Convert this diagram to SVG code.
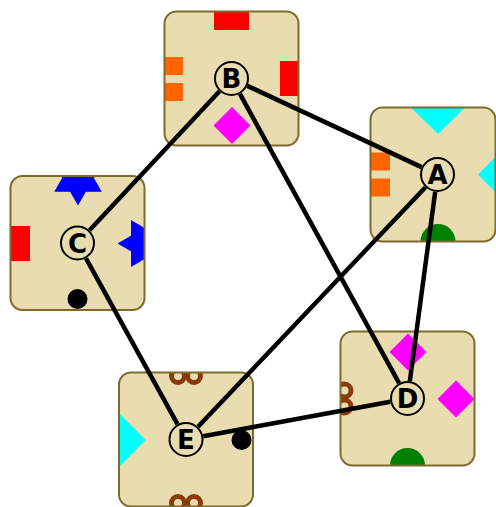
<svg xmlns="http://www.w3.org/2000/svg" width="496" height="507" viewBox="0 0 496 507">
<style>
.box{fill:#e8dcb0;stroke:none}
.frame{fill:none;stroke:#7d6b2e;stroke-width:2}
.nd{fill:#e8dcb0;stroke:#000;stroke-width:2}
.lbl{font-family:"DejaVu Sans",sans-serif;font-weight:bold;font-size:26px;text-anchor:middle;fill:#000}
.edge{stroke:#000;stroke-width:4.5;fill:none}
.brn{fill:none;stroke:#8b3a0a;stroke-width:5}
.red{fill:#ff0000}
.org{fill:#ff6600}
.mag{fill:#ff00ff}
.cyn{fill:#00ffff}
.blu{fill:#0000ff}
.grn{fill:#008000}
.blk{fill:#000}
</style>
<defs>
<clipPath id="cB"><rect x="164.5" y="11.5" width="134" height="134" rx="12"/></clipPath>
<clipPath id="cA"><rect x="370.5" y="107.5" width="125" height="134" rx="12"/></clipPath>
<clipPath id="cC"><rect x="10.5" y="176" width="134" height="134" rx="12"/></clipPath>
<clipPath id="cD"><rect x="340.5" y="331.5" width="134" height="134" rx="12"/></clipPath>
<clipPath id="cE"><rect x="119" y="372.5" width="134" height="134" rx="12"/></clipPath>
</defs>

<g id="node-B">
<rect class="box" x="164.5" y="11.5" width="134" height="134" rx="12"/>
<g clip-path="url(#cB)">
<rect class="red" x="214" y="0" width="35" height="30"/>
<rect class="org" x="150" y="57" width="33" height="18"/>
<rect class="org" x="150" y="83" width="33" height="18"/>
<rect class="red" x="280" y="61" width="30" height="35"/>
<polygon class="mag" points="232,107 250.5,125.5 232,144 213.5,125.5"/>
</g>
<rect class="frame" x="164.5" y="11.5" width="134" height="134" rx="12"/>
<circle class="nd" cx="231.5" cy="78.5" r="16.5"/>
<text class="lbl" x="231.5" y="88">B</text>
</g>

<g id="node-A">
<rect class="box" x="370.5" y="107.5" width="125" height="134" rx="12"/>
<g clip-path="url(#cA)">
<polygon class="cyn" points="411,107.5 465,107.5 438,134"/>
<polygon class="cyn" points="478,174.5 504,148 504,201"/>
<rect class="org" x="360" y="152.5" width="30" height="18"/>
<rect class="org" x="360" y="178.5" width="30" height="18"/>
<circle class="grn" cx="438" cy="241.5" r="17.5"/>
</g>
<rect class="frame" x="370.5" y="107.5" width="125" height="134" rx="12"/>
<circle class="nd" cx="437.5" cy="174.5" r="16.5"/>
<text class="lbl" x="437.5" y="184">A</text>
</g>

<g id="node-C">
<rect class="box" x="10.5" y="176" width="134" height="134" rx="12"/>
<g clip-path="url(#cC)">
<polygon class="blu" points="78,205.5 54.2,164.25 101.8,164.25"/>
<polygon class="blu" points="78,150.5 54.2,191.75 101.8,191.75"/>
<polygon class="blu" points="117.5,243.5 158,220.1 158,266.9"/>
<polygon class="blu" points="171.5,243.5 131,220.1 131,266.9"/>
<rect class="red" x="0" y="226" width="30" height="35"/>
<circle class="blk" cx="77.5" cy="299" r="10"/>
</g>
<rect class="frame" x="10.5" y="176" width="134" height="134" rx="12"/>
<circle class="nd" cx="77.5" cy="243" r="16.5"/>
<text class="lbl" x="77.5" y="252.5">C</text>
</g>

<g id="node-D">
<rect class="box" x="340.5" y="331.5" width="134" height="134" rx="12"/>
<g clip-path="url(#cD)">
<polygon class="mag" points="408,333.5 426.5,352 408,370.5 389.5,352"/>
<polygon class="mag" points="456,380.5 474.5,399 456,417.5 437.5,399"/>
<circle class="grn" cx="407.5" cy="465.5" r="17.5"/>
<circle class="brn" cx="344.5" cy="390.5" r="6.5"/>
<circle class="brn" cx="344.5" cy="406.5" r="6.5"/>
</g>
<rect class="frame" x="340.5" y="331.5" width="134" height="134" rx="12"/>
<circle class="nd" cx="407.5" cy="398.5" r="16.5"/>
<text class="lbl" x="407.5" y="408">D</text>
</g>

<g id="node-E">
<rect class="box" x="119" y="372.5" width="134" height="134" rx="12"/>
<g clip-path="url(#cE)">
<polygon class="cyn" points="145.5,440 119,413 119,467"/>
<circle class="blk" cx="241.5" cy="440" r="10"/>
<circle class="brn" cx="178" cy="376" r="6.5"/>
<circle class="brn" cx="194" cy="376" r="6.5"/>
<circle class="brn" cx="178" cy="503" r="6.5"/>
<circle class="brn" cx="194" cy="503" r="6.5"/>
</g>
<rect class="frame" x="119" y="372.5" width="134" height="134" rx="12"/>
<circle class="nd" cx="186" cy="439.5" r="16.5"/>
<text class="lbl" x="186" y="449">E</text>
</g>

<g id="edges">
<line class="edge" x1="219.5" y1="91.3" x2="89.5" y2="230.2"/>
<line class="edge" x1="247.4" y1="85.9" x2="421.6" y2="167.1"/>
<line class="edge" x1="239.9" y1="93.8" x2="399.1" y2="383.2"/>
<line class="edge" x1="425.5" y1="187.2" x2="198.0" y2="426.8"/>
<line class="edge" x1="435.2" y1="191.9" x2="409.8" y2="381.2"/>
<line class="edge" x1="86.0" y1="258.3" x2="177.5" y2="424.2"/>
<line class="edge" x1="203.2" y1="436.3" x2="390.3" y2="401.7"/>
</g>
</svg>
